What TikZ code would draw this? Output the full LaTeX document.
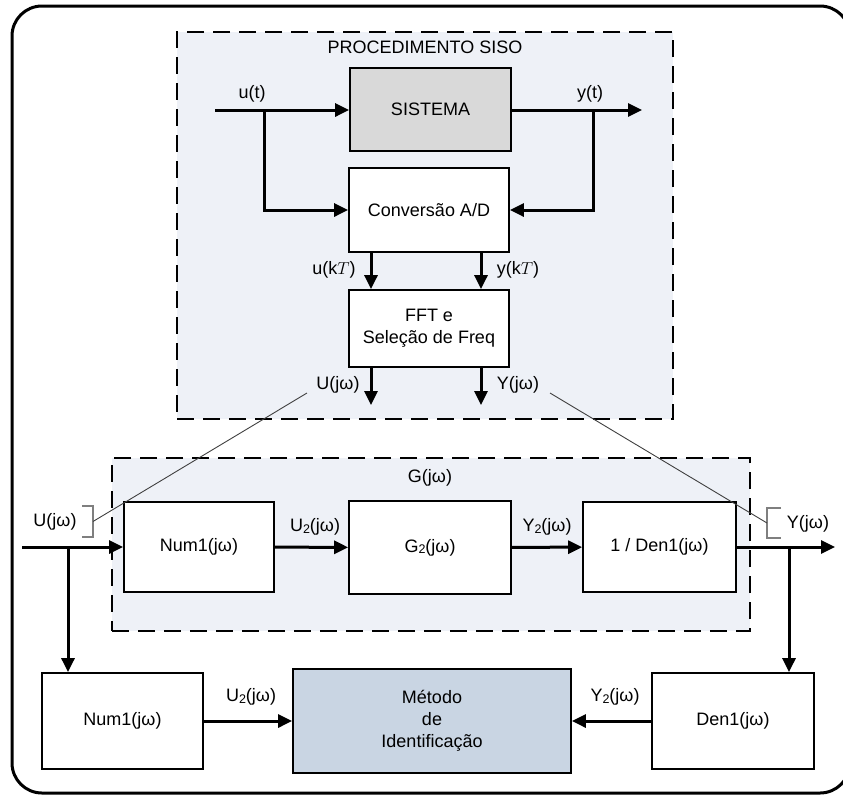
\documentclass[tikz,border=0pt]{standalone}
\usepackage{fontspec}
\setmainfont{Liberation Sans}
\usetikzlibrary{arrows.meta}
\definecolor{panelfill}{HTML}{EEF1F7}
\definecolor{sysfill}{HTML}{D9D9D9}
\definecolor{metfill}{HTML}{C9D5E3}
\definecolor{thinline}{HTML}{404040}
\definecolor{brk}{HTML}{7F7F7F}
\newcommand{\sub}[1]{\raisebox{-1.5pt}{\fontsize{12.5}{12.5}\selectfont #1}}
\tikzset{
  every node/.style={font=\fontsize{18}{22}\selectfont},
  blk/.style={draw, line width=1.8pt, fill=white, inner sep=0pt, align=center},
  panel/.style={draw, line width=2.2pt, dash pattern=on 17pt off 9pt, fill=panelfill, inner sep=0pt},
  arr/.style={line width=3pt, -{Triangle[length=14pt,width=13pt]}},
  lbl/.style={inner sep=1pt},
  leader/.style={draw=thinline, line width=0.9pt},
  bracket/.style={draw=brk, line width=1.4pt},
}
\begin{document}
\begin{tikzpicture}[x=1pt,y=-1pt]
\useasboundingbox (0,0) rectangle (843,796);
% outer frame
\draw[line width=3pt, rounded corners=30pt] (12,6) rectangle (850,793);

% panels
\node[panel, minimum width=496pt, minimum height=387pt] (siso) at (425,225.5) {};
\node[panel, minimum width=638pt, minimum height=173pt] (gpanel) at (431,544.5) {};
\node (sisolbl) at (425,47) {PROCEDIMENTO SISO};
\node (glbl) at (430,478) {G(jω)};

% top blocks
\node[blk, fill=sysfill, minimum width=161pt, minimum height=83pt] (sistema) at (430.5,109.5) {SISTEMA};
\node[blk, minimum width=160pt, minimum height=84pt] (conv) at (429,210) {Conversão A/D};
\node[blk, minimum width=160pt, minimum height=77pt] (fft) at (429,328.5) {FFT e\\Seleção de Freq};

% middle blocks
\node[blk, minimum width=150pt, minimum height=90pt] (num1) at (199,547) {Num1(jω)};
\node[blk, minimum width=162pt, minimum height=93pt] (g2) at (430,547.5) {G\sub{2}(jω)};
\node[blk, minimum width=153pt, minimum height=90pt] (dinv) at (659.5,547) {1 / Den1(jω)};

% bottom blocks
\node[blk, minimum width=161pt, minimum height=96pt] (num1b) at (122.5,721) {Num1(jω)};
\node[blk, fill=metfill, minimum width=278pt, minimum height=104pt] (metodo) at (432,721) {Método\\de\\Identificação};
\node[blk, minimum width=162pt, minimum height=96pt] (den1b) at (733,721) {Den1(jω)};

% coordinates
\coordinate (uin) at (215,110);
\coordinate (ubr) at (264,110);
\coordinate (ybr) at (593,110);
\coordinate (yout) at (642,110);
\coordinate (ux) at (371,0);
\coordinate (yx) at (481,0);
\coordinate (uend) at (371,405);
\coordinate (yend) at (481,405);
\coordinate (min) at (22,547);
\coordinate (mbrl) at (68,547);
\coordinate (mbrr) at (789,547);
\coordinate (mout) at (835,547);

% top wiring
\draw[arr] (uin) -- (sistema.west |- uin);
\draw[arr] (ubr) |- (conv.west);
\draw[arr] (sistema.east |- yout) -- (yout);
\draw[arr] (ybr) |- (conv.east);
\draw[arr] (conv.south -| ux) -- (fft.north -| ux);
\draw[arr] (conv.south -| yx) -- (fft.north -| yx);
\draw[arr] (fft.south -| ux) -- (uend);
\draw[arr] (fft.south -| yx) -- (yend);

% top labels
\node[lbl] (ut) at (252,94) {u(t)};
\node[lbl] (yt) at (590,94) {y(t)};
\node[lbl] (ukt) at (334,270) {u(k$T$)};
\node[lbl] (ykt) at (518,270) {y(k$T$)};
\node[lbl] (Uj) at (338,385) {U(jω)};
\node[lbl] (Yj) at (518,385) {Y(jω)};

% middle wiring
\draw[arr] (min) -- (num1.west);
\draw[arr] (num1) -- (g2);
\draw[arr] (g2) -- (dinv);
\draw[arr] (dinv.east) -- (mout);
\draw[arr] (mbrl) -- (mbrl |- num1b.north);
\draw[arr] (mbrr) -- (mbrr |- den1b.north);
\draw[arr] (num1b.east |- metodo) -- (metodo.west);
\draw[arr] (den1b.west |- metodo) -- (metodo.east);

% middle labels
\node[lbl] (Ul) at (55,522) {U(jω)};
\node[lbl] (Yr) at (808,524) {Y(jω)};
\node[lbl] (U2) at (315,527) {U\sub{2}(jω)};
\node[lbl] (Y2) at (547,527) {Y\sub{2}(jω)};
\node[lbl] (U2b) at (251,697) {U\sub{2}(jω)};
\node[lbl] (Y2b) at (615,697) {Y\sub{2}(jω)};

% brackets and leader lines
\coordinate (bl) at (93,521.5);
\coordinate (br) at (767,523);
\coordinate (ltop) at (307,393);
\coordinate (rtop) at (550,393);
\draw[bracket] (82,506) -- (93,506) -- (93,537) -- (82,537);
\draw[bracket] (781,508) -- (767,508) -- (767,538) -- (781,538);
\draw[leader] (bl) -- (ltop);
\draw[leader] (br) -- (rtop);
\end{tikzpicture}
\end{document}
